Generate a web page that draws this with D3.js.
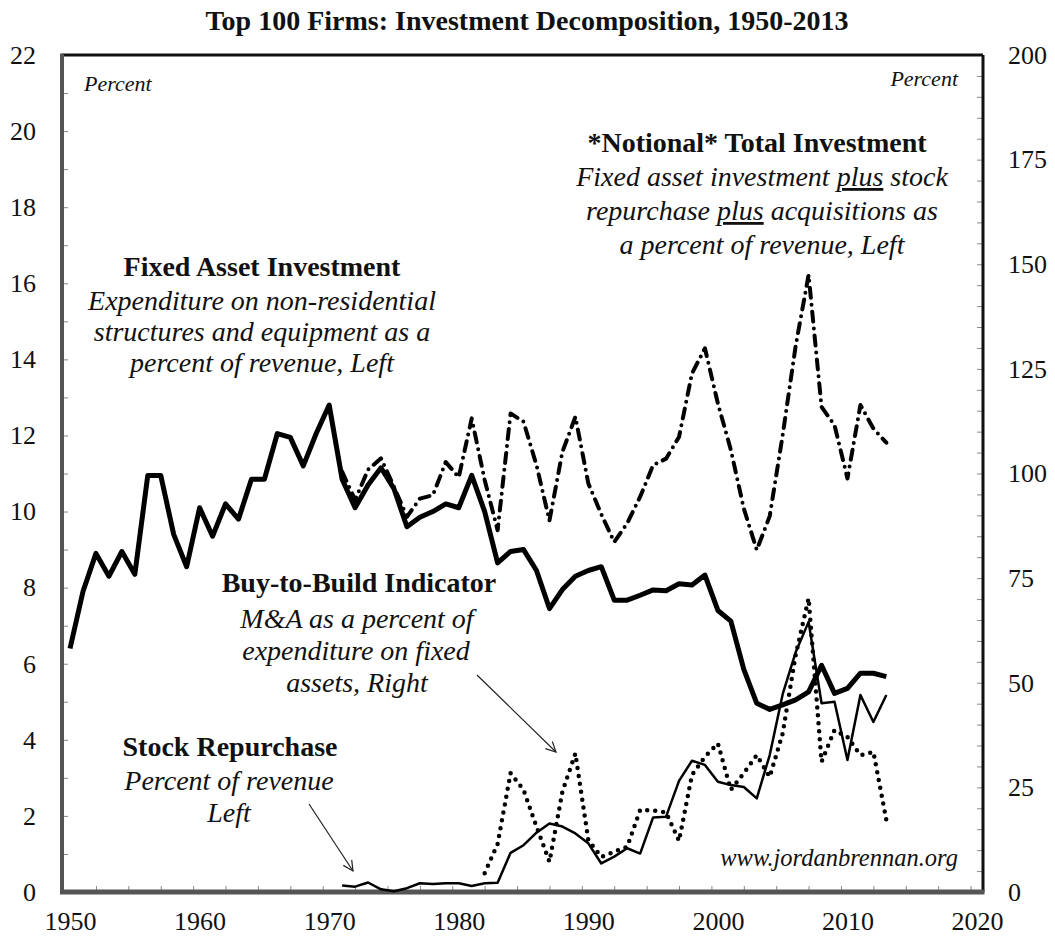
<!DOCTYPE html>
<html>
<head>
<meta charset="utf-8">
<script src="https://cdn.jsdelivr.net/npm/d3@7"></script>
<style>
  html, body { margin: 0; padding: 0; background: #fff; }
  svg { display: block; }
  text { font-family: "Liberation Serif", "Times New Roman", serif; fill: #111; }
</style>
</head>
<body>
<svg id="chart" width="1055" height="938"></svg>
<script>
// ---- data -------------------------------------------------------------
const fixedAssetYears = d3.range(1950, 2014);
const fixedAsset = [
  6.4, 7.9, 8.9, 8.3, 8.95, 8.35, 10.95, 10.95, 9.4, 8.55,
  10.1, 9.35, 10.2, 9.8, 10.85, 10.85, 12.05, 11.95, 11.2, 12.05,
  12.8, 10.85, 10.1, 10.7, 11.15, 10.6, 9.6, 9.85, 10.0, 10.2,
  10.1, 10.95, 10.0, 8.65, 8.95, 9.0, 8.45, 7.45, 7.95, 8.3,
  8.45, 8.55, 7.67, 7.67, 7.8, 7.94, 7.92, 8.1, 8.07, 8.33,
  7.4, 7.12, 5.85, 4.96, 4.8, 4.92, 5.05, 5.26, 5.96, 5.22,
  5.35, 5.75, 5.75, 5.66
];

const notionalYears = d3.range(1971, 2014);
const notionalTotal = [
  11.05, 10.3, 11.1, 11.4, 10.65, 9.86, 10.34, 10.43, 11.3,
  10.9, 12.45, 10.83, 9.51, 12.58, 12.36, 11.22, 9.76, 11.57, 12.49,
  10.74, 9.93, 9.2, 9.69, 10.39, 11.22, 11.39, 11.96, 13.63, 14.29,
  12.84, 11.62, 10.08, 8.99, 9.88, 12.01, 14.35, 16.22, 12.75, 12.27,
  10.87, 12.8, 12.18, 11.81
];

const repurchaseYears = d3.range(1971, 2014);
const stockRepurchase = [
  0.17, 0.14, 0.25, 0.07, 0.02, 0.1, 0.23, 0.21, 0.23,
  0.23, 0.16, 0.23, 0.24, 1.03, 1.23, 1.56, 1.8, 1.72, 1.54,
  1.28, 0.75, 0.93, 1.15, 1.01, 1.96, 1.98, 2.92, 3.45, 3.34,
  2.9, 2.81, 2.76, 2.46, 3.6, 5.2, 6.3, 7.1, 4.96, 5.0,
  3.47, 5.18, 4.47, 5.18
];

const buyBuildYears = d3.range(1982, 2014);
const buyToBuild = [
  4.5, 11.5, 28.4, 24.4, 15.6, 7.2, 24.0, 33.1,
  12.4, 8.4, 9.6, 10.8, 19.6, 19.5, 19.0, 12.2, 28.0, 32.3,
  35.5, 24.4, 28.4, 32.7, 27.5, 37.9, 56.6, 70.2, 31.1, 38.7,
  37.0, 32.7, 33.5, 17.2
];

const leftTickLabels = d3.range(0, 23, 2);
const rightTickLabels = d3.range(0, 201, 25);
const yearTickLabels = d3.range(1950, 2021, 10);

// ---- layout -----------------------------------------------------------
const svg = d3.select("#chart");
const W = 1055, H = 938;
const L = 62, R = 983, T = 55, B = 892;

svg.append("rect").attr("width", W).attr("height", H).attr("fill", "#fff");

const x = d3.scaleLinear().domain([1949.38, 2020.46]).range([L, R]);
const yL = d3.scaleLinear().domain([0, 22]).range([B, T]);
const yR = d3.scaleLinear().domain([0, 200]).range([B, T]);

// title
svg.append("text")
  .attr("x", 527).attr("y", 30)
  .attr("text-anchor", "middle")
  .attr("font-size", 28).attr("font-weight", "bold")
  .text("Top 100 Firms: Investment Decomposition, 1950-2013");

// ---- axes -------------------------------------------------------------
function clean(g) { g.select(".domain").remove(); g.selectAll("text").attr("font-family", null).attr("fill", "#111"); }

svg.append("g").attr("transform", `translate(${L},0)`)
  .call(d3.axisRight(yL).tickValues(d3.range(0, 23, 1)).tickSize(6).tickFormat(""))
  .call(clean).selectAll("line").attr("stroke", "#888");
svg.append("g").attr("transform", `translate(${R},0)`)
  .call(d3.axisLeft(yR).tickValues(d3.range(0, 201, 5)).tickSize(6).tickFormat(""))
  .call(clean).selectAll("line").attr("stroke", "#888");
svg.append("g").attr("transform", `translate(0,${B})`)
  .call(d3.axisTop(x).tickValues(d3.range(1952, 2020, 2.5)).tickSize(6).tickFormat(""))
  .call(clean).selectAll("line").attr("stroke", "#888");

svg.append("g").attr("transform", `translate(${L},0)`)
  .call(d3.axisLeft(yL).tickValues(leftTickLabels).tickSize(0).tickPadding(26).tickFormat(d3.format("d")))
  .call(clean).attr("font-size", 26);
svg.append("g").attr("transform", `translate(${R},0)`)
  .call(d3.axisRight(yR).tickValues(rightTickLabels).tickSize(0).tickPadding(25).tickFormat(d3.format("d")))
  .call(clean).attr("font-size", 26);
svg.append("g").attr("transform", `translate(0,${B})`)
  .call(d3.axisBottom(x).tickValues(yearTickLabels).tickSize(0).tickPadding(20).tickFormat(d3.format("d")))
  .call(clean).attr("font-size", 26);

// plot frame
svg.append("line").attr("x1", L).attr("x2", R).attr("y1", T).attr("y2", T)
  .attr("stroke", "#111").attr("stroke-width", 3);
svg.append("line").attr("x1", R).attr("x2", R).attr("y1", T).attr("y2", B)
  .attr("stroke", "#111").attr("stroke-width", 3);
svg.append("line").attr("x1", L).attr("x2", L).attr("y1", T - 1.5).attr("y2", B)
  .attr("stroke", "#555").attr("stroke-width", 4);
svg.append("line").attr("x1", L - 2).attr("x2", R + 1.5).attr("y1", B).attr("y2", B)
  .attr("stroke", "#555").attr("stroke-width", 5);

// ---- series -----------------------------------------------------------
function series(years, values, scale) {
  return d3.line().x((d, i) => x(years[i])).y(d => scale(d))(values);
}

const plot = svg.append("g").attr("fill", "none").attr("stroke", "#000")
  .attr("stroke-linejoin", "round");

plot.append("path").attr("d", series(fixedAssetYears, fixedAsset, yL))
  .attr("stroke-width", 5);
plot.append("path").attr("d", series(notionalYears, notionalTotal, yL))
  .attr("stroke-width", 4).attr("stroke-linecap", "round")
  .attr("stroke-dasharray", "10,7,0,7");
plot.append("path").attr("d", series(repurchaseYears, stockRepurchase, yL))
  .attr("stroke-width", 2.5);
plot.append("path").attr("d", series(buyBuildYears, buyToBuild, yR))
  .attr("stroke-width", 4.5).attr("stroke-linecap", "round")
  .attr("stroke-dasharray", "0,8");

// ---- annotations ------------------------------------------------------
function addText(px, py, str, opts = {}) {
  const t = svg.append("text").attr("x", px).attr("y", py)
    .attr("text-anchor", opts.anchor || "middle")
    .attr("font-size", opts.size || 28)
    .attr("font-weight", opts.bold ? "bold" : null)
    .attr("font-style", opts.italic ? "italic" : null)
    .attr("fill", opts.fill || "#111");
  if (Array.isArray(str)) {
    str.forEach(part => {
      const s = t.append("tspan").text(part.t);
      if (part.u) s.style("text-decoration", "underline");
    });
  } else {
    t.text(str);
  }
  return t;
}

addText(84, 91, "Percent", { anchor: "start", italic: true, size: 22 });
addText(958, 86, "Percent", { anchor: "end", italic: true, size: 22 });

addText(757, 152, "*Notional* Total Investment", { bold: true });
addText(762, 186, [{ t: "Fixed asset investment " }, { t: "plus", u: true }, { t: " stock" }], { italic: true });
addText(762, 220, [{ t: "repurchase " }, { t: "plus", u: true }, { t: " acquisitions as" }], { italic: true });
addText(762, 254, "a percent of  revenue, Left", { italic: true });

addText(262, 276, "Fixed Asset Investment", { bold: true });
addText(262, 310, "Expenditure on non-residential", { italic: true });
addText(262, 341, "structures and equipment as a", { italic: true });
addText(262, 372, "percent of revenue, Left", { italic: true });

addText(359, 592, "Buy-to-Build Indicator", { bold: true });
addText(357, 628, "M&A as a percent of", { italic: true });
addText(356, 660, "expenditure on fixed", { italic: true });
addText(357, 692, "assets, Right", { italic: true });

addText(230, 756, "Stock Repurchase", { bold: true });
addText(229, 790, "Percent of revenue", { italic: true });
addText(229, 822, "Left", { italic: true });

addText(958, 866, "www.jordanbrennan.org", { anchor: "end", italic: true, size: 24.5, fill: "#333" });

// pointer arrows
const defs = svg.append("defs");
defs.append("marker").attr("id", "openArrow")
  .attr("viewBox", "0 0 12 12").attr("refX", 11).attr("refY", 6)
  .attr("markerWidth", 12).attr("markerHeight", 12)
  .attr("markerUnits", "userSpaceOnUse").attr("orient", "auto")
  .append("path").attr("d", "M1,1 L11,6 L1,11")
  .attr("fill", "none").attr("stroke", "#222").attr("stroke-width", 1.2);

function arrow(x1, y1, x2, y2) {
  svg.append("line").attr("x1", x1).attr("y1", y1).attr("x2", x2).attr("y2", y2)
    .attr("stroke", "#222").attr("stroke-width", 1.2)
    .attr("marker-end", "url(#openArrow)");
}
arrow(477, 675, 556, 752);
arrow(309, 804, 353, 871);
</script>
</body>
</html>
